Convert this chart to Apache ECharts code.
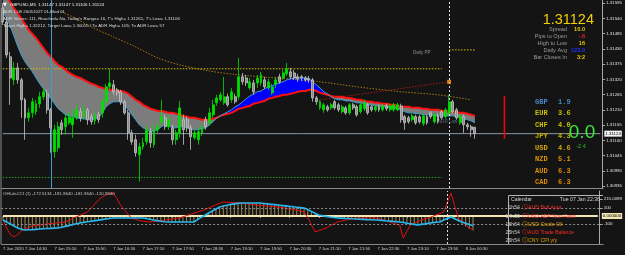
<!DOCTYPE html>
<html><head><meta charset="utf-8">
<script src="https://cdn.jsdelivr.net/npm/echarts@6/dist/echarts.min.js"></script>
<style>html,body{margin:0;padding:0;background:#141414;}#c{width:625px;height:255px;}</style>
</head><body><div id="c"></div>
<script>
// ---------- DATA ----------
const opens = [1.31577,1.31527,1.31401,1.31318,1.31361,1.31318,1.31246,1.31181,1.31199,1.31203,1.31232,1.31257,1.31268,1.31210,1.31059,1.31073,1.31163,1.31149,1.31163,1.31156,1.31181,1.31203,1.31185,1.31210,1.31185,1.31170,1.31192,1.31199,1.31239,1.31293,1.31300,1.31282,1.31275,1.31239,1.31199,1.31127,1.31102,1.31048,1.31077,1.31095,1.31131,1.31084,1.31138,1.31167,1.31181,1.31149,1.31145,1.31102,1.31127,1.31174,1.31174,1.31145,1.31109,1.31102,1.31127,1.31174,1.31163,1.31192,1.31235,1.31246,1.31235,1.31257,1.31246,1.31257,1.31257,1.31329,1.31325,1.31289,1.31307,1.31307,1.31307,1.31318,1.31289,1.31271,1.31300,1.31329,1.31325,1.31340,1.31347,1.31343,1.31329,1.31329,1.31325,1.31322,1.31318,1.31253,1.31217,1.31210,1.31221,1.31217,1.31239,1.31228,1.31203,1.31217,1.31199,1.31228,1.31221,1.31203,1.31214,1.31228,1.31221,1.31210,1.31221,1.31210,1.31224,1.31210,1.31210,1.31210,1.31224,1.31185,1.31181,1.31174,1.31185,1.31185,1.31160,1.31185,1.31199,1.31167,1.31188,1.31203,1.31185,1.31199,1.31239,1.31210,1.31163,1.31185,1.31156,1.31149,1.31147];
const closes = [1.31527,1.31408,1.31325,1.31361,1.31318,1.31246,1.31181,1.31199,1.31239,1.31232,1.31257,1.31275,1.31210,1.31145,1.31138,1.31149,1.31138,1.31181,1.31185,1.31181,1.31210,1.31181,1.31210,1.31174,1.31167,1.31192,1.31174,1.31239,1.31293,1.31307,1.31275,1.31271,1.31239,1.31199,1.31127,1.31095,1.31055,1.31077,1.31091,1.31138,1.31091,1.31138,1.31149,1.31185,1.31149,1.31174,1.31102,1.31127,1.31217,1.31138,1.31145,1.31113,1.31127,1.31131,1.31149,1.31149,1.31199,1.31228,1.31253,1.31264,1.31257,1.31228,1.31275,1.31239,1.31329,1.31311,1.31307,1.31311,1.31275,1.31325,1.31336,1.31293,1.31311,1.31293,1.31318,1.31311,1.31343,1.31358,1.31329,1.31325,1.31322,1.31325,1.31318,1.31318,1.31253,1.31239,1.31239,1.31228,1.31210,1.31228,1.31217,1.31210,1.31221,1.31199,1.31228,1.31217,1.31192,1.31228,1.31235,1.31199,1.31210,1.31221,1.31210,1.31224,1.31214,1.31224,1.31228,1.31228,1.31174,1.31163,1.31167,1.31188,1.31163,1.31167,1.31188,1.31163,1.31185,1.31192,1.31167,1.31181,1.31210,1.31239,1.31203,1.31181,1.31185,1.31156,1.31149,1.31138,1.31124];
const highs = [1.31595,1.31541,1.31419,1.31383,1.31379,1.31325,1.31253,1.31217,1.31253,1.31246,1.31275,1.31289,1.31282,1.31217,1.31156,1.31167,1.31174,1.31196,1.31203,1.31210,1.31228,1.31217,1.31228,1.31217,1.31196,1.31203,1.31203,1.31253,1.31304,1.31358,1.31318,1.31289,1.31282,1.31246,1.31210,1.31138,1.31120,1.31091,1.31109,1.31156,1.31145,1.31156,1.31167,1.31246,1.31192,1.31188,1.31156,1.31138,1.31242,1.31192,1.31185,1.31156,1.31138,1.31145,1.31160,1.31185,1.31217,1.31246,1.31264,1.31275,1.31329,1.31268,1.31289,1.31268,1.31397,1.31343,1.31336,1.31325,1.31318,1.31336,1.31347,1.31329,1.31322,1.31304,1.31329,1.31340,1.31354,1.31379,1.31361,1.31354,1.31340,1.31336,1.31332,1.31332,1.31325,1.31260,1.31246,1.31235,1.31228,1.31235,1.31246,1.31235,1.31228,1.31224,1.31235,1.31235,1.31228,1.31235,1.31246,1.31235,1.31228,1.31228,1.31228,1.31232,1.31232,1.31232,1.31235,1.31235,1.31232,1.31192,1.31188,1.31196,1.31192,1.31192,1.31196,1.31192,1.31206,1.31199,1.31196,1.31210,1.31217,1.31264,1.31246,1.31217,1.31192,1.31192,1.31163,1.31156,1.31147];
const lows = [1.31516,1.31397,1.31228,1.31300,1.31304,1.31181,1.31102,1.31167,1.31181,1.31192,1.31217,1.31246,1.31196,1.31055,1.31037,1.31059,1.31120,1.31120,1.31156,1.31109,1.31174,1.31167,1.31174,1.31156,1.31156,1.31156,1.31163,1.31181,1.31228,1.31282,1.31264,1.31260,1.31228,1.31192,1.31102,1.31084,1.31041,1.30951,1.31066,1.31084,1.31073,1.31073,1.31127,1.31156,1.31138,1.31138,1.31084,1.31084,1.31109,1.31084,1.31131,1.31066,1.31102,1.31084,1.31116,1.31138,1.31152,1.31181,1.31224,1.31239,1.31228,1.31221,1.31235,1.31232,1.31246,1.31300,1.31296,1.31282,1.31264,1.31289,1.31296,1.31286,1.31282,1.31264,1.31289,1.31304,1.31318,1.31332,1.31322,1.31318,1.31311,1.31314,1.31311,1.31307,1.31239,1.31228,1.31210,1.31199,1.31203,1.31210,1.31210,1.31203,1.31196,1.31192,1.31192,1.31210,1.31185,1.31196,1.31206,1.31192,1.31203,1.31203,1.31203,1.31203,1.31206,1.31203,1.31203,1.31206,1.31163,1.31138,1.31160,1.31167,1.31156,1.31160,1.31152,1.31156,1.31178,1.31160,1.31160,1.31174,1.31178,1.31192,1.31196,1.31174,1.31156,1.31127,1.31138,1.31113,1.31106];
const slowMA = [1.31642,1.31620,1.31599,1.31577,1.31559,1.31538,1.31520,1.31498,1.31484,1.31469,1.31451,1.31433,1.31415,1.31401,1.31386,1.31372,1.31365,1.31354,1.31343,1.31336,1.31329,1.31325,1.31318,1.31311,1.31304,1.31300,1.31293,1.31289,1.31286,1.31282,1.31282,1.31278,1.31278,1.31275,1.31268,1.31257,1.31246,1.31239,1.31228,1.31221,1.31214,1.31210,1.31206,1.31206,1.31203,1.31199,1.31199,1.31196,1.31192,1.31188,1.31185,1.31181,1.31181,1.31178,1.31174,1.31174,1.31174,1.31178,1.31181,1.31188,1.31192,1.31196,1.31199,1.31206,1.31214,1.31217,1.31221,1.31224,1.31232,1.31235,1.31239,1.31242,1.31250,1.31253,1.31257,1.31260,1.31264,1.31264,1.31268,1.31271,1.31275,1.31278,1.31278,1.31282,1.31282,1.31278,1.31271,1.31268,1.31264,1.31260,1.31257,1.31257,1.31257,1.31253,1.31253,1.31250,1.31246,1.31246,1.31242,1.31239,1.31239,1.31235,1.31235,1.31232,1.31232,1.31228,1.31228,1.31224,1.31221,1.31221,1.31221,1.31217,1.31217,1.31217,1.31214,1.31214,1.31210,1.31210,1.31210,1.31206,1.31206,1.31203,1.31203,1.31203,1.31199,1.31199,1.31196,1.31192,1.31188];
const fastMA = [1.31563,1.31541,1.31512,1.31476,1.31440,1.31408,1.31383,1.31365,1.31347,1.31325,1.31304,1.31286,1.31268,1.31250,1.31232,1.31214,1.31203,1.31192,1.31188,1.31185,1.31181,1.31178,1.31178,1.31174,1.31174,1.31178,1.31181,1.31199,1.31221,1.31232,1.31239,1.31239,1.31239,1.31228,1.31210,1.31192,1.31174,1.31156,1.31145,1.31138,1.31131,1.31134,1.31138,1.31149,1.31156,1.31152,1.31145,1.31145,1.31149,1.31149,1.31145,1.31138,1.31138,1.31138,1.31142,1.31145,1.31156,1.31167,1.31181,1.31188,1.31196,1.31203,1.31210,1.31221,1.31228,1.31239,1.31250,1.31260,1.31268,1.31275,1.31278,1.31286,1.31293,1.31296,1.31304,1.31307,1.31311,1.31318,1.31322,1.31325,1.31325,1.31325,1.31325,1.31322,1.31311,1.31300,1.31289,1.31275,1.31268,1.31257,1.31250,1.31246,1.31246,1.31242,1.31242,1.31239,1.31235,1.31235,1.31232,1.31228,1.31228,1.31224,1.31224,1.31221,1.31221,1.31217,1.31217,1.31214,1.31210,1.31203,1.31199,1.31199,1.31196,1.31196,1.31192,1.31192,1.31192,1.31188,1.31188,1.31188,1.31188,1.31188,1.31188,1.31185,1.31181,1.31178,1.31174,1.31170,1.31163];
const trendDots = [[16,1.31563],[20,1.31538],[24,1.31509],[30,1.31473],[36,1.31437],[42,1.31397],[48,1.31372],[56,1.31350],[64,1.31336],[74,1.31325],[86,1.31311],[96,1.31293],[108,1.31275],[118,1.31264],[127,1.31246]];
const adrDots = [[86,1.31246],[121,1.31311]];
const levelHigh = [[0,1.31358],[119,1.31358]];
const levelLow = [[0,1.30966],[119,1.30966]];
const dailyPP = [[121,1.31426],[128,1.31426]];
const dayRange = [[136,1.31261],[136,1.31106]];
const currentPrice = 1.31124;
const cciFast = [-50,-150,-230,-262,-230,-190,-160,-140,-125,-118,-112,-105,-100,-95,-90,-85,-80,-75,-55,-30,-10,10,30,50,100,150,200,240,262,280,287,220,137,80,25,-25,-40,-55,-65,-70,-75,-70,-65,-58,-50,-45,-38,-30,-25,-10,5,20,35,50,65,80,100,120,140,160,175,172,170,167,165,162,155,150,143,137,133,128,124,120,116,112,105,97,88,80,72,62,50,-20,-110,-200,-183,-167,-150,-125,-100,-75,-65,-55,-45,-35,-30,-25,-25,-25,-25,-25,-25,-40,-55,-70,-85,-100,-112,-275,-190,-112,-90,-70,-50,-35,-25,-5,15,30,50,170,287,130,-25,-70,-110,-150,-172.5134];
const cciSlow = [-50,-75,-100,-125,-150,-165,-175,-172,-170,-167,-163,-160,-157,-155,-152,-150,-140,-130,-120,-108,-97,-87,-80,-72,-65,-58,-52,-45,-38,-32,-25,-25,-25,-25,-25,-25,-25,-25,-25,-32,-40,-50,-58,-65,-72,-75,-75,-75,-75,-75,-75,-75,-75,-45,-15,10,37,62,87,112,125,135,145,152,158,162,162,162,162,162,162,157,152,147,142,137,132,127,120,115,110,105,100,80,58,35,12,3,-5,-12,-18,-25,-27,-30,-32,-35,-37,-40,-42,-45,-47,-50,-50,-55,-60,-63,-67,-70,-75,-82,-90,-97,-105,-112,-105,-98,-90,-83,-78,-75,-50,-30,-12,-35,-55,-75,-90,-105,-120.994];
const cciHist = [-50,-75,-100,-125,-150,-165,-175,-172,-170,-167,-163,-160,-157,-155,-152,-150,-140,-130,-120,-108,-97,-87,-80,-72,-65,-58,-52,-45,-38,-32,-25,-25,-25,-25,-25,-25,-25,-25,-25,-32,-40,-50,-58,-65,-72,-75,-75,-75,-75,-75,-75,-75,-75,-45,-15,10,37,62,87,112,125,135,145,152,158,162,162,162,162,162,162,157,152,147,142,137,132,127,120,115,110,105,100,80,58,35,12,3,-5,-12,-18,-25,-27,-30,-32,-35,-37,-40,-42,-45,-47,-50,-50,-55,-60,-63,-67,-70,-75,-82,-90,-97,-105,-112,-105,-98,-90,-83,-78,-75,-50,-30,-12,-40,-70,-100,-130,-160,-181.964];
const priceTicks = [1.30935,1.30990,1.31045,1.31100,1.31155,1.31210,1.31265,1.31320,1.31375,1.31430,1.31485,1.31540,1.31595];
const cciTicks = [215.0099,100,-100,-352.8634];
const tickTimes = ['14:00','14:30','15:10','15:50','16:30','17:10','17:50','18:30','19:10','19:50','20:30','21:10','21:50','22:30','23:10','23:50','00:30'];
const tickLabels = ['7 Jan 2020','7 Jan 14:30','7 Jan 15:10','7 Jan 15:50','7 Jan 16:30','7 Jan 17:10','7 Jan 17:50','7 Jan 18:30','7 Jan 19:10','7 Jan 19:50','7 Jan 20:30','7 Jan 21:10','7 Jan 21:50','7 Jan 22:30','7 Jan 23:10','7 Jan 23:50','8 Jan 00:30'];
const currencies = ['GBP','EUR','CHF','JPY','USD','NZD','AUD','CAD'];
const strengths = ['1.9','3.6','4.0','4.3','4.6','5.1','6.3','6.3'];
const infoLabels = ['Spread','Pips to Open','High to Low','Daily Avg','Bar Closes In'];
const infoValues = ['10.0','-.6','16','123.0','3:2'];
const calTimes = ['1h54','14h39','16h54','25h54','26h54'];
const calEvents = ['AUD Bull Appr','USD ADP Non-Farm','USD Crude Oil','AUD Trade Balance','CNY CPI y/y'];
const headerLines = [
  'GBPUSD,M5  1.31147 1.31147 1.31106 1.31124',
  'ADR 1.08 20051027 01-Mod 01',
  "ADR Values: 111, Reached=.No, Today's Range= 16, T's High= 1.31261, T's Low= 1.31106",
  'Target High= 1.32212, Target Low= 1.30015 / To ADR High= 105; To ADR Low= 57'
];

// ---------- BUILD ----------
const SLOTS = 163;
const categories = [];
for (let i = 0; i < SLOTS; i++) {
  const m = (14 * 60 + 5 * i) % 1440;
  categories.push(String(Math.floor(m / 60)).padStart(2, '0') + ':' + String(m % 60).padStart(2, '0'));
}
const candleData = opens.map((o, i) => [o, closes[i], lows[i], highs[i]]);
const showTick = (idx) => tickTimes.indexOf(categories[idx]) >= 0;
const priceLine = [[0, currentPrice], [SLOTS - 1, currentPrice]];

const SF = '"Liberation Sans", Arial, sans-serif';
const MONO = '"Liberation Mono", "DejaVu Sans Mono", monospace';
function txt(x, y, text, fill, font, align) {
  return { type: 'text', x: x, y: y, silent: true, z: 100,
    style: { text: text, fill: fill, font: font, align: align || 'left', textAlign: align || 'left', verticalAlign: 'middle', textVerticalAlign: 'middle' } };
}
function ln(x1, y1, x2, y2, color, w, dash) {
  return { type: 'line', silent: true, z: 90, shape: { x1, y1, x2, y2 }, style: { stroke: color, lineWidth: w || 1, lineDash: dash || null } };
}
const strengthColors = ['#4a86c8', '#c8c000', '#c8c000', '#c8b400', '#d4a800', '#e09400', '#e08c00', '#e08c00'];
const infoColors = ['#e8c800', '#ff2020', '#e8c000', '#2030ff', '#e8c800'];
const calColors = ['#ff2a2a', '#ff2a2a', '#e8a000', '#ff2a2a', '#e8a000'];

const graphics = [];
graphics.push(ln(1, 0, 1, 244, '#8a8a8a'));
graphics.push(ln(1, 188.5, 603.5, 188.5, '#8a8a8a'));
graphics.push(ln(1, 244.5, 603.5, 244.5, '#8a8a8a'));
graphics.push(txt(3, 5, '▼', '#ffffff', '5px "DejaVu Sans"'));
headerLines.forEach((t, k) => graphics.push(txt(k === 0 ? 10 : 3, 5 + k * 7, t, k === 0 ? '#ececec' : '#dcdcdc', '4.4px ' + SF)));
graphics.push(txt(594, 19.5, '1.31124', '#f0d000', '14.5px ' + SF, 'right'));
infoLabels.forEach((t, k) => {
  graphics.push(txt(567, 29 + k * 7.2, t, '#9a9a9a', '5.6px ' + SF, 'right'));
  graphics.push(txt(585, 29 + k * 7.2, infoValues[k], infoColors[k], 'bold 5.6px ' + SF, 'right'));
});
graphics.push(txt(413, 53, 'Daily PP', '#8c8c8c', '4.6px ' + SF));
graphics.push(txt(438, 122, 'ADR Low', '#5c6a70', '4.6px ' + SF));
currencies.forEach((c, k) => {
  graphics.push(txt(535, 102 + k * 11.5, c, strengthColors[k], 'bold 7px ' + MONO));
  graphics.push(txt(558, 102 + k * 11.5, strengths[k], strengthColors[k], 'bold 7px ' + MONO));
});
graphics.push(txt(582, 132.5, '0.0', '#3ee63e', '19px ' + SF, 'center'));
graphics.push(txt(581, 146, '-2.4', '#2fbf2f', '5.5px ' + SF, 'center'));
graphics.push(txt(3, 194, 'OHLdsCCI (1) -172.5134 -181.9640 -181.9640 -120.9940', '#c8c8c8', '4.4px ' + SF));
graphics.push(ln(508.5, 195.5, 603, 195.5, '#b4b4b4'));
graphics.push(ln(508.5, 195.5, 508.5, 244, '#b4b4b4'));
graphics.push(txt(511, 200, 'Calendar', '#d4d4d4', '5.2px ' + SF));
graphics.push(txt(600, 200, 'Tue 07 Jan 22:36', '#d4d4d4', '5.2px ' + SF, 'right'));
calTimes.forEach((t, k) => {
  const y = 208 + k * 8.2;
  graphics.push(txt(520, y, t, '#c8c8c8', '5.2px ' + SF, 'right'));
  graphics.push(txt(524.5, y, 'ⓘ', calColors[k], '5.5px "DejaVu Sans"', 'center'));
  graphics.push(txt(528, y, calEvents[k], calColors[k], '5.2px ' + SF));
});

const chart = echarts.init(document.getElementById('c'), null, { renderer: 'canvas' });
const noAnim = { animation: false, silent: true };
chart.setOption({
  backgroundColor: '#141414',
  animation: false,
  grid: [
    { left: 1, top: 0, width: 602, height: 188, show: false },
    { left: 1, top: 191, width: 602, height: 53, show: false }
  ],
  xAxis: [
    { gridIndex: 0, type: 'category', data: categories, boundaryGap: true,
      axisLine: { show: false }, axisTick: { show: false }, axisLabel: { show: false }, splitLine: { show: false } },
    { gridIndex: 1, type: 'category', data: categories, boundaryGap: true,
      axisLine: { show: false },
      axisTick: { show: true, interval: showTick, alignWithLabel: true, length: 2, lineStyle: { color: '#a0a0a0' } },
      axisLabel: { show: true, interval: showTick, align: 'left', margin: 3, color: '#d0d0d0', fontSize: 4.2, fontFamily: 'Liberation Sans',
        formatter: (v) => tickLabels[tickTimes.indexOf(v)] },
      splitLine: { show: false } }
  ],
  yAxis: [
    { gridIndex: 0, type: 'value', position: 'right', min: 1.30928, max: 1.31606,
      axisLine: { show: true, lineStyle: { color: '#a8a8a8', width: 1 } },
      axisTick: { show: true, customValues: priceTicks, length: 3, lineStyle: { color: '#a8a8a8' } },
      axisLabel: { show: true, customValues: priceTicks, formatter: (v) => v.toFixed(5), color: '#e0e0e0', fontSize: 4.4, fontFamily: 'Liberation Sans', margin: 4 },
      splitLine: { show: false } },
    { gridIndex: 1, type: 'value', position: 'right', min: -350, max: 312.5,
      axisLine: { show: true, lineStyle: { color: '#a8a8a8', width: 1 } },
      axisTick: { show: true, customValues: cciTicks, length: 3, lineStyle: { color: '#a8a8a8' } },
      axisLabel: { show: true, customValues: cciTicks, formatter: (v) => (v === 100 || v === -100) ? String(v) : v.toFixed(4), color: '#e0e0e0', fontSize: 4.4, fontFamily: 'Liberation Sans', margin: 4 },
      splitLine: { show: false } }
  ],
  series: [
    { type: 'custom', name: 'band', xAxisIndex: 0, yAxisIndex: 0, data: [[0, slowMA[0]]], z: 1, ...noAnim,
      encode: { x: 0, y: 1 },
      renderItem: (params, api) => {
        const S = slowMA.map((v, i) => api.coord([i, v]));
        const F = fastMA.map((v, i) => api.coord([i, v]));
        const polys = [];
        let top = [S[0]], bot = [F[0]];
        let sign = fastMA[0] - slowMA[0] > 0 ? 1 : -1;
        for (let i = 0; i < S.length - 1; i++) {
          const d0 = fastMA[i] - slowMA[i], d1 = fastMA[i + 1] - slowMA[i + 1];
          const s1 = d1 > 0 ? 1 : (d1 < 0 ? -1 : 0);
          if (s1 !== 0 && s1 !== sign) {
            const t = (d0 === 0 || (d0 > 0 ? 1 : -1) === s1) ? 0 : d0 / (d0 - d1);
            const P = [S[i][0] + t * (S[i + 1][0] - S[i][0]), S[i][1] + t * (S[i + 1][1] - S[i][1])];
            top.push(P); bot.push(P);
            polys.push({ sign, pts: top.concat(bot.slice().reverse()) });
            top = [P]; bot = [P];
            sign = s1;
          }
          top.push(S[i + 1]); bot.push(F[i + 1]);
        }
        polys.push({ sign, pts: top.concat(bot.slice().reverse()) });
        return { type: 'group', children: polys.map(p => ({ type: 'polygon', shape: { points: p.pts },
          style: { fill: p.sign > 0 ? '#0000ff' : '#7c7c7c' } })) };
      } },
    { type: 'line', name: 'levelHigh', data: levelHigh, xAxisIndex: 0, yAxisIndex: 0, symbol: 'none', z: 2, ...noAnim,
      lineStyle: { color: '#d8c400', width: 1, type: [1.5, 1.5] } },
    { type: 'line', name: 'levelLow', data: levelLow, xAxisIndex: 0, yAxisIndex: 0, symbol: 'none', z: 2, ...noAnim,
      lineStyle: { color: '#22a022', width: 1, type: [1.5, 1.5] } },
    { type: 'line', name: 'dailyPP', data: dailyPP, xAxisIndex: 0, yAxisIndex: 0, symbol: 'none', z: 2, ...noAnim,
      lineStyle: { color: '#d8c400', width: 1, type: [1.5, 1.5] } },
    { type: 'line', name: 'trend', data: trendDots, xAxisIndex: 0, yAxisIndex: 0, symbol: 'none', smooth: 0.3, z: 2, ...noAnim,
      lineStyle: { color: '#a8780c', width: 1, type: [1.5, 1.5] } },
    { type: 'line', name: 'adr', data: adrDots, xAxisIndex: 0, yAxisIndex: 0, symbol: 'none', z: 2, ...noAnim,
      lineStyle: { color: '#a01818', width: 1, type: [1.5, 1.5] } },
    { type: 'line', name: 'current', data: priceLine, xAxisIndex: 0, yAxisIndex: 0, symbol: 'none', z: 2, ...noAnim,
      lineStyle: { color: '#8896a4', width: 1 },
      endLabel: { show: true, formatter: currentPrice.toFixed(5), color: '#000', backgroundColor: '#f2f2f2', fontSize: 4.4, fontFamily: 'Liberation Sans', padding: [1, 1], distance: 4 },
      markLine: { silent: true, symbol: ['none', 'none'], animation: false,
        data: [
          { xAxis: 13, lineStyle: { color: '#3a9fd0', width: 1, type: 'solid' }, label: { show: false } },
          { xAxis: 121, lineStyle: { color: '#e0e0e0', width: 1, type: [2, 2] }, label: { show: false } }
        ] } },
    { type: 'line', name: 'slow', data: slowMA, xAxisIndex: 0, yAxisIndex: 0, symbol: 'none', z: 4, ...noAnim,
      lineStyle: { color: '#ff1010', width: 2 } },
    { type: 'line', name: 'fast', data: fastMA, xAxisIndex: 0, yAxisIndex: 0, symbol: 'none', z: 4, ...noAnim,
      lineStyle: { color: '#3a9fd0', width: 1 } },
    { type: 'candlestick', name: 'price', data: candleData, xAxisIndex: 0, yAxisIndex: 0, z: 5, barWidth: 2.4, clip: false, ...noAnim,
      itemStyle: { color: '#00e000', color0: '#8c8c8c', borderColor: '#00e000', borderColor0: '#c4c4c4', borderWidth: 0.8 } },
    { type: 'scatter', name: 'adrMark', data: [[121, 1.31311]], xAxisIndex: 0, yAxisIndex: 0, symbol: 'rect', symbolSize: 4, z: 6, ...noAnim,
      itemStyle: { color: '#ffa020' } },
    { type: 'line', name: 'range', data: dayRange, xAxisIndex: 0, yAxisIndex: 0, symbol: 'none', z: 6, ...noAnim,
      lineStyle: { color: '#ff0000', width: 1.5 } },
    { type: 'bar', name: 'hist', data: cciHist, xAxisIndex: 1, yAxisIndex: 1, barWidth: 1, z: 2, ...noAnim,
      itemStyle: { color: '#9c8a5a' } },
    { type: 'line', name: 'zero', data: [[0, 0], [SLOTS - 1, 0]], xAxisIndex: 1, yAxisIndex: 1, symbol: 'none', z: 3, ...noAnim,
      lineStyle: { color: '#f2e6b4', width: 2 },
      endLabel: { show: true, formatter: '0.000000', color: '#000', backgroundColor: '#f2e6b4', fontSize: 4.4, fontFamily: 'Liberation Sans', padding: [1, 1], distance: 4 },
      markLine: { silent: true, symbol: ['none', 'none'], animation: false,
        data: [
          { yAxis: 100, lineStyle: { color: '#8a8a8a', width: 1, type: [2, 2] }, label: { show: false } },
          { yAxis: -100, lineStyle: { color: '#8a8a8a', width: 1, type: [2, 2] }, label: { show: false } },
          { xAxis: 121, lineStyle: { color: '#e0e0e0', width: 1, type: [2, 2] }, label: { show: false } }
        ] } },
    { type: 'line', name: 'cciFast', data: cciFast, xAxisIndex: 1, yAxisIndex: 1, symbol: 'none', z: 4, ...noAnim,
      lineStyle: { color: '#e01010', width: 1 } },
    { type: 'line', name: 'cciSlow', data: cciSlow, xAxisIndex: 1, yAxisIndex: 1, symbol: 'none', z: 5, ...noAnim,
      lineStyle: { color: '#28b8f0', width: 1.6 } }
  ],
  graphic: graphics
});
</script>
</body></html>
